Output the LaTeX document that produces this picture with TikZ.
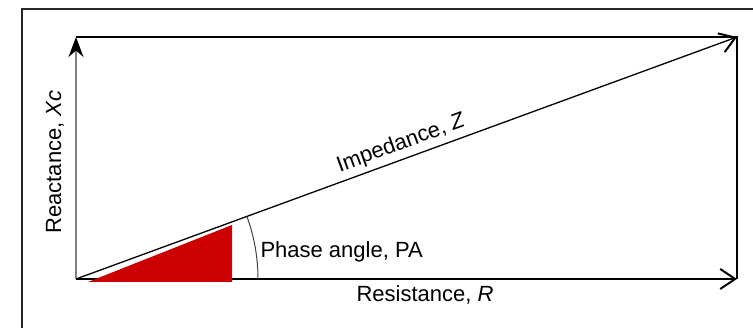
\documentclass[tikz,border=0pt]{standalone}
\usepackage{fontspec}
\setmainfont{Liberation Sans}
\usepackage{xcolor}
\usetikzlibrary{arrows.meta}
\definecolor{phasered}{RGB}{204,0,0}

\begin{document}
\begin{tikzpicture}[x=1pt, y=1pt, font=\fontsize{22}{26}\selectfont,
  axis/.style={line width=1.6pt, black},
  barb/.style={-{Straight Barb[length=15pt, width=20pt, line width=2pt]}}]
  \useasboundingbox (0,0) rectangle (753,328);
  % Frame
  \draw[line width=2pt, black!85] (22,-5) -- (22,319) -- (760,319);

  % Corners of the impedance rectangle
  \coordinate (O) at (76,49);
  \coordinate (T) at (76,291);
  \coordinate (C) at (737,291);
  \coordinate (B) at (737,49);

  % Reactance and closing sides
  \draw[line width=1.6pt, gray, -{Stealth[length=20pt, width=15pt, black]}] (O) -- (T);
  \draw[axis] (T) -- (C) -- (B);
  \node[rotate=90] (xc) at (55,166) {Reactance, \textit{Xc}};

  % Resistance
  \draw[axis, barb] (O) -- (B);
  \node[anchor=base] (res) at (425,26) {Resistance, \textit{R}};

  % Impedance
  \draw[line width=1.3pt, barb] (O) -- node[pos=0.5, above=1pt, sloped] (imp) {Impedance, \textit{Z}} (C);

  % Phase angle
  \fill[phasered] (88,46) -- (232,103) -- (232,46) -- cycle;
  \draw[line width=1pt, black!75] ([shift={(0:182)}]O) arc (0:20.1:182);
  \node[anchor=base west] (pa) at (257,70) {Phase angle, PA};
\end{tikzpicture}
\end{document}
